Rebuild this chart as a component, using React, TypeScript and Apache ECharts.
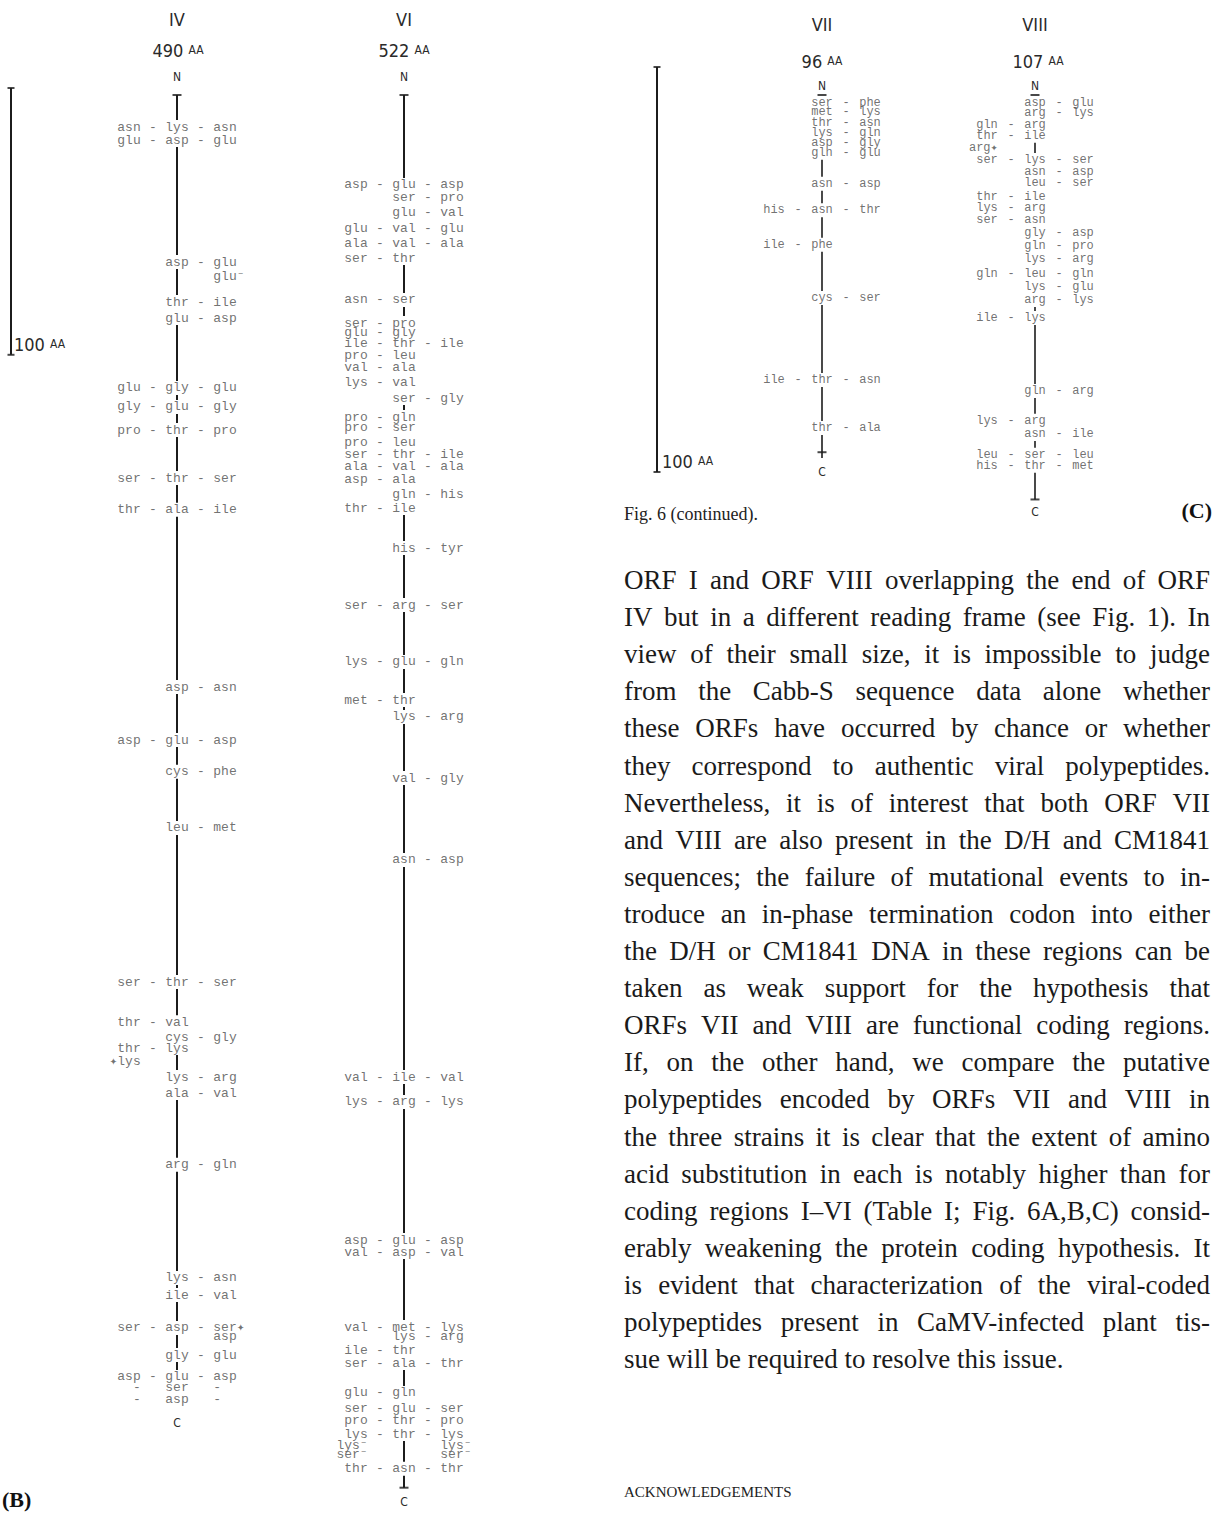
import React, { useEffect, useRef } from "react";
import * as echarts from "echarts";

const W = 1226;
const H = 1514;
const MONO = "'Liberation Mono', 'DejaVu Sans Mono', monospace";
const SANS_N = "'DejaVu Sans Condensed', 'Liberation Sans Narrow', 'DejaVu Sans', sans-serif";
const SERIF = "'Liberation Serif', 'DejaVu Serif', serif";
const INK = "#1c1c1c";
const TXT = "#4d4d4d";

// ---------- ORF IV (490 AA) ----------
const ivLength = 490;
const ivPos = [12.0, 16.9, 62.6, 68.2, 77.6, 83.6, 109.8, 116.9, 125.6, 143.6, 155.5, 221.9, 241.8, 253.7, 274.7, 332.5, 347.5, 353.1, 357.2, 362.4, 368.1, 374.1, 401.0, 443.4, 449.8, 462.1, 465.5, 472.3, 480.5, 484.6, 489.1];
const ivLeft = ["asn", "glu", "", "", "", "", "glu", "gly", "pro", "ser", "thr", "", "asp", "", "", "ser", "thr", "", "thr", "✦lys", "", "", "", "", "", "ser", "", "", "asp", "-", "-"];
const ivCenter = ["lys", "asp", "asp", "", "thr", "glu", "gly", "glu", "thr", "thr", "ala", "asp", "glu", "cys", "leu", "thr", "val", "cys", "lys", "", "lys", "ala", "arg", "lys", "ile", "asp", "", "gly", "glu", "ser", "asp"];
const ivRight = ["asn", "glu", "glu", "glu⁻", "ile", "asp", "glu", "gly", "pro", "ser", "ile", "asn", "asp", "phe", "met", "ser", "", "gly", "", "", "arg", "val", "gln", "asn", "val", "ser✦", "asp", "glu", "asp", "-", "-"];
const ivCaps = [0];

// ---------- ORF VI (522 AA) ----------
const viLength = 522;
const viPos = [33.7, 38.6, 44.2, 49.9, 55.5, 61.1, 76.8, 85.5, 89.2, 93.0, 97.5, 102.3, 107.6, 113.6, 120.7, 124.8, 130.1, 134.9, 139.4, 144.3, 149.9, 154.8, 169.8, 191.2, 212.5, 226.8, 233.1, 256.0, 286.7, 368.1, 377.4, 429.2, 433.7, 461.8, 465.5, 470.4, 475.3, 486.5, 492.5, 497.0, 501.9, 506.0, 509.7, 514.9];
const viLeft = ["asp", "", "", "glu", "ala", "ser", "asn", "ser", "glu", "ile", "pro", "val", "lys", "", "pro", "pro", "pro", "ser", "ala", "asp", "", "thr", "", "ser", "lys", "met", "", "", "", "val", "lys", "asp", "val", "val", "", "ile", "ser", "glu", "ser", "pro", "lys", "lys⁻", "ser⁻", "thr"];
const viCenter = ["glu", "ser", "glu", "val", "val", "thr", "ser", "pro", "gly", "thr", "leu", "ala", "val", "ser", "gln", "ser", "leu", "thr", "val", "ala", "gln", "ile", "his", "arg", "glu", "thr", "lys", "val", "asn", "ile", "arg", "glu", "asp", "met", "lys", "thr", "ala", "gln", "glu", "thr", "thr", "", "", "asn"];
const viRight = ["asp", "pro", "val", "glu", "ala", "", "", "", "", "ile", "", "", "", "gly", "", "", "", "ile", "ala", "", "his", "", "tyr", "ser", "gln", "", "arg", "gly", "asp", "val", "lys", "asp", "val", "lys", "arg", "", "thr", "", "ser", "pro", "lys", "lys⁻", "ser⁻", "thr"];
const viCaps = [0, 522];

// ---------- ORF VII (96 AA) ----------
const viiLength = 96;
const viiPos = [2.1, 4.6, 7.3, 10.0, 12.6, 15.3, 23.5, 30.5, 39.6, 53.7, 75.4, 88.1];
const viiLeft = ["", "", "", "", "", "", "", "his", "ile", "", "ile", ""];
const viiCenter = ["ser", "met", "thr", "lys", "asp", "gln", "asn", "asn", "phe", "cys", "thr", "thr"];
const viiRight = ["phe", "lys", "asn", "gln", "gly", "glu", "asp", "thr", "", "ser", "asn", "ala"];
const viiCaps = [0, 94.5];

// ---------- ORF VIII (107 AA) ----------
const viiiLength = 107;
const viiiPos = [2.1, 4.8, 7.9, 10.8, 14.0, 17.2, 20.4, 23.3, 27.0, 29.9, 33.1, 36.5, 39.9, 43.4, 47.4, 50.8, 54.2, 59.0, 78.3, 86.2, 89.7, 95.2, 98.1];
const viiiLeft = ["", "", "gln", "thr", "arg✦", "ser", "", "", "thr", "lys", "ser", "", "", "", "gln", "", "", "ile", "", "lys", "", "leu", "his"];
const viiiCenter = ["asp", "arg", "arg", "ile", "", "lys", "asn", "leu", "ile", "arg", "asn", "gly", "gln", "lys", "leu", "lys", "arg", "lys", "gln", "arg", "asn", "ser", "thr"];
const viiiRight = ["glu", "lys", "", "", "", "ser", "asp", "ser", "", "", "", "asp", "pro", "arg", "gln", "glu", "lys", "", "arg", "", "ile", "leu", "met"];
const viiiCaps = [0, 107];

// scale bars
const scaleLength = 100;

// text
const captionText = "Fig. 6 (continued).";
const paraLines = [
  "ORF I and ORF VIII overlapping the end of ORF",
  "IV but in a different reading frame (see Fig. 1). In",
  "view of their small size, it is impossible to judge",
  "from the Cabb-S sequence data alone whether",
  "these ORFs have occurred by chance or whether",
  "they correspond to authentic viral polypeptides.",
  "Nevertheless, it is of interest that both ORF VII",
  "and VIII are also present in the D/H and CM1841",
  "sequences; the failure of mutational events to in-",
  "troduce an in-phase termination codon into either",
  "the D/H or CM1841 DNA in these regions can be",
  "taken as weak support for the hypothesis that",
  "ORFs VII and VIII are functional coding regions.",
  "If, on the other hand, we compare the putative",
  "polypeptides encoded by ORFs VII and VIII in",
  "the three strains it is clear that the extent of amino",
  "acid substitution in each is notably higher than for",
  "coding regions I–VI (Table I; Fig. 6A,B,C) consid-",
  "erably weakening the protein coding hypothesis. It",
  "is evident that characterization of the viral-coded",
  "polypeptides present in CaMV-infected plant tis-",
  "sue will be required to resolve this issue.",
];

const PX_B = 2.668;
const PX_C = 3.78;
const X_IV = 177;
const X_VI = 404;
const X_VII = 822;
const X_VIII = 1035;

type Orf = {
  grid: number; len: number; pos: number[]; left: string[]; center: string[]; right: string[];
  caps: number[]; fs: number; lw: number; px: number;
};

function orfSeries(o: Orf): any[] {
  const g = o.grid;
  const base = { xAxisIndex: g, yAxisIndex: g, silent: true };
  const anchor = 1 - (1.5 * 0.6 * o.fs) / 48;
  const font = {
    fontFamily: MONO, fontSize: o.fs, color: TXT, lineHeight: o.fs - 3,
    textBorderWidth: 0, textBorderColor: "transparent", textShadowBlur: 0,
  };
  const out: any[] = [];
  // backbone, broken where a centre residue is written on it
  const half = 7 / o.px;
  const minSeg = 2.5 / o.px;
  const centres = o.pos.filter((p, i) => o.center[i]).sort((a, b) => a - b);
  const segData: any[] = [];
  let cur = 0;
  centres.forEach((p) => {
    const end = p - half;
    if (end - cur > minSeg) {
      segData.push([0, cur], [0, end], "-");
    }
    cur = Math.max(cur, p + half);
  });
  if (o.len - cur > minSeg) segData.push([0, cur], [0, o.len]);
  out.push({ ...base, type: "line", data: segData, connectNulls: false, symbol: "none", itemStyle: { color: INK }, lineStyle: { color: INK, width: o.lw }, z: 1 });
  out.push({ ...base, type: "scatter", data: o.caps.map((c) => [0, c]), symbol: "rect", symbolSize: [9, 2], itemStyle: { color: INK }, z: 2 });
  const mk = (x: number, arr: string[], position: string) => ({
    ...base,
    type: "scatter",
    symbolSize: 0,
    z: 4,
    itemStyle: { color: TXT },
    data: o.pos.map((p, i) => ({ value: [x, p], name: arr[i] })).filter((d) => d.name),
    label: { show: true, position, distance: 0, formatter: "{b}", ...font },
  });
  out.push(mk(-anchor, o.left, "left"));
  out.push(mk(0, o.center, "inside"));
  out.push(mk(anchor, o.right, "right"));
  const ld = o.pos.map((p, i) => (o.left[i] && o.center[i] && o.left[i] !== "-" ? "-" : ""));
  const rd = o.pos.map((p, i) => (o.right[i] && o.center[i] && o.right[i] !== "-" ? "-" : ""));
  out.push(mk(-0.5, ld, "inside"));
  out.push(mk(0.5, rd, "inside"));
  return out;
}

function barSeries(g: number): any[] {
  const base = { xAxisIndex: g, yAxisIndex: g, silent: true };
  return [
    { ...base, type: "line", data: [[0, 0], [0, scaleLength]], symbol: "none", itemStyle: { color: INK }, lineStyle: { color: INK, width: 2 }, z: 1 },
    { ...base, type: "scatter", data: [[0, 0], [0, scaleLength]], symbol: "rect", symbolSize: [7, 2], itemStyle: { color: INK }, z: 2 },
  ];
}

function txt(x: number, y: number, text: string, fontSize: number, fontFamily: string, extra: any = {}) {
  return {
    type: "text", x, y, silent: true,
    style: {
      text, fontSize, fontFamily, fill: extra.fill || "#2a2a2a", fontWeight: extra.fontWeight || "normal",
      align: extra.align || "center", verticalAlign: "middle", textAlign: extra.align || "center", textVerticalAlign: "middle", rich: extra.rich,
    },
  };
}

function aaLabel(x: number, y: number, num: string, align = "center") {
  return txt(x, y, `{n|${num}} {u|AA}`, 18, SANS_N, {
    align,
    rich: { n: { fontSize: 18, fontFamily: SANS_N, fill: "#2a2a2a" }, u: { fontSize: 12, fontFamily: SANS_N, fill: "#2a2a2a" } },
  });
}

function paragraph(): any[] {
  const left = 624;
  const right = 1210;
  const top = 580;
  const gap = 37.1;
  const ctx = document.createElement("canvas").getContext("2d")!;
  ctx.font = `24px 'Liberation Serif'`;
  const maxW = Math.max(...paraLines.map((l) => ctx.measureText(l).width));
  const fs = Math.max(22, Math.min(27, (24 * (right - left + 6)) / maxW));
  ctx.font = `${fs}px 'Liberation Serif'`;
  const els: any[] = [];
  paraLines.forEach((line, li) => {
    const y = top + li * gap;
    const words = line.split(" ");
    const widths = words.map((w) => ctx.measureText(w).width);
    const total = widths.reduce((a, b) => a + b, 0);
    const last = li === paraLines.length - 1;
    const space = last || words.length < 2 ? ctx.measureText(" ").width : (right - left - total) / (words.length - 1);
    let x = left;
    words.forEach((w, wi) => {
      els.push(txt(x, y, w, fs, SERIF, { align: "left", fill: "#1a1a1a" }));
      x += widths[wi] + space;
    });
  });
  return els;
}

function buildOption(): any {
  const grids = [
    { left: X_IV - 48, top: 95, width: 96, height: ivLength * PX_B },
    { left: X_VI - 48, top: 95, width: 96, height: viLength * PX_B },
    { left: X_VII - 48, top: 95, width: 96, height: viiLength * PX_C },
    { left: X_VIII - 48, top: 95, width: 96, height: viiiLength * PX_C },
    { left: 11 - 5, top: 88, width: 10, height: scaleLength * PX_B },
    { left: 657 - 5, top: 67, width: 10, height: 405 },
  ];
  const lens = [ivLength, viLength, viiLength, viiiLength, scaleLength, scaleLength];
  const xAxis = grids.map((_, i) => ({ type: "value", gridIndex: i, min: -1, max: 1, show: false }));
  const yAxis = grids.map((_, i) => ({ type: "value", gridIndex: i, min: 0, max: lens[i], inverse: true, show: false }));

  const series = [
    ...orfSeries({ grid: 0, len: ivLength, pos: ivPos, left: ivLeft, center: ivCenter, right: ivRight, caps: ivCaps, fs: 13, lw: 2, px: PX_B }),
    ...orfSeries({ grid: 1, len: viLength, pos: viPos, left: viLeft, center: viCenter, right: viRight, caps: viCaps, fs: 13, lw: 2, px: PX_B }),
    ...orfSeries({ grid: 2, len: viiLength, pos: viiPos, left: viiLeft, center: viiCenter, right: viiRight, caps: viiCaps, fs: 12, lw: 1.6, px: PX_C }),
    ...orfSeries({ grid: 3, len: viiiLength, pos: viiiPos, left: viiiLeft, center: viiiCenter, right: viiiRight, caps: viiiCaps, fs: 12, lw: 1.6, px: PX_C }),
    ...barSeries(4),
    ...barSeries(5),
  ];

  const graphic: any[] = [
    txt(X_IV, 19, "IV", 18, SANS_N),
    aaLabel(X_IV + 1, 50, "490"),
    txt(X_IV, 77, "N", 12, SANS_N),
    txt(X_IV, 1423, "C", 12, SANS_N),
    txt(X_VI, 19, "VI", 18, SANS_N),
    aaLabel(X_VI, 50, "522"),
    txt(X_VI, 77, "N", 12, SANS_N),
    txt(X_VI, 1502, "C", 12, SANS_N),
    aaLabel(14, 344, "100", "left"),
    txt(2, 1499, "(B)", 22, SERIF, { align: "left", fontWeight: "bold", fill: "#111" }),
    txt(X_VII, 24, "VII", 18, SANS_N),
    aaLabel(X_VII, 61, "96"),
    txt(X_VII, 86, "N", 12, SANS_N),
    txt(X_VII, 472, "C", 12, SANS_N),
    txt(X_VIII, 24, "VIII", 18, SANS_N),
    aaLabel(X_VIII + 3, 61, "107"),
    txt(X_VIII, 86, "N", 12, SANS_N),
    txt(X_VIII, 512, "C", 12, SANS_N),
    aaLabel(662, 461, "100", "left"),
    txt(1212, 510, "(C)", 22, SERIF, { align: "right", fontWeight: "bold", fill: "#111" }),
    txt(624, 514, captionText, 18, SERIF, { align: "left", fill: "#222" }),
    ...paragraph(),
    txt(624, 1492, "ACKNOWLEDGEMENTS", 15, SERIF, { align: "left", fill: "#222" }),
  ];

  return { animation: false, backgroundColor: "#ffffff", grid: grids, xAxis, yAxis, series, graphic };
}

export default function App() {
  const ref = useRef<HTMLDivElement>(null);
  useEffect(() => {
    if (!ref.current) return;
    const chart = echarts.init(ref.current, null, { renderer: "svg", width: W, height: H });
    chart.setOption(buildOption());
    return () => chart.dispose();
  }, []);
  return <div ref={ref} style={{ position: "absolute", left: 0, top: 0, width: W, height: H, background: "#fff" }} />;
}
